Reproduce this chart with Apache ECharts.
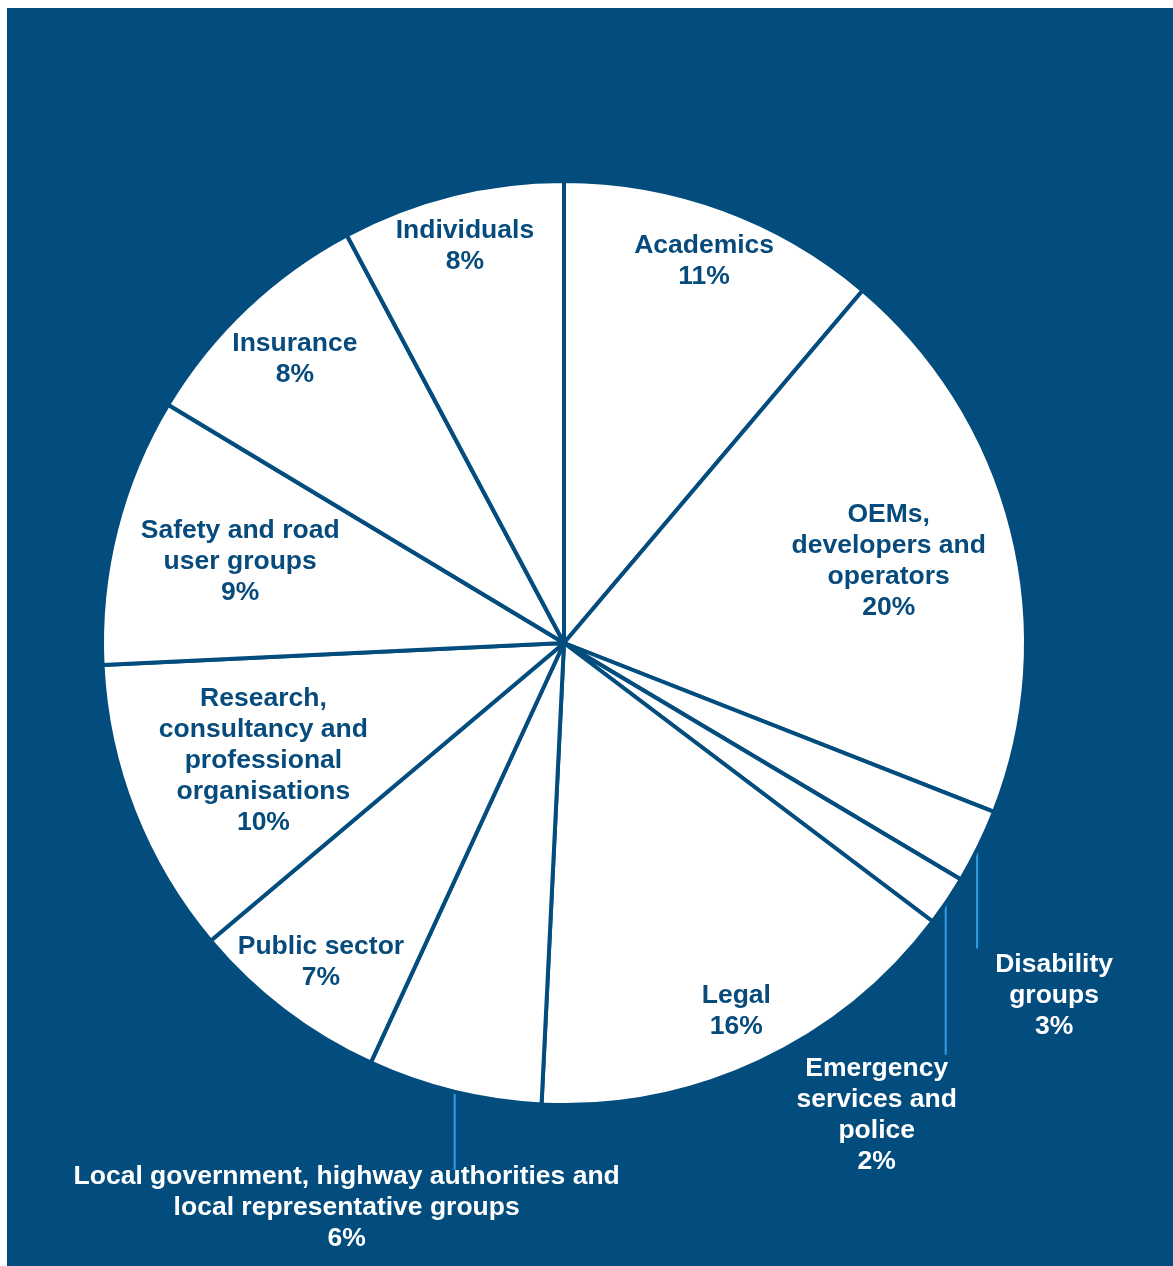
<!DOCTYPE html>
<html>
<head>
<meta charset="utf-8">
<script src="https://cdn.jsdelivr.net/npm/echarts@6/dist/echarts.min.js"></script>
<style>
html, body { margin: 0; padding: 0; background: #ffffff; }
#chart { position: absolute; left: 7px; top: 8px; width: 1166px; height: 1258px; }
</style>
</head>
<body>
<div id="chart"></div>
<script>
// ---- data (clockwise from 12 o'clock) ----
const categories = [
  'Academics',
  'OEMs, developers and operators',
  'Disability groups',
  'Emergency services and police',
  'Legal',
  'Local government, highway authorities and local representative groups',
  'Public sector',
  'Research, consultancy and professional organisations',
  'Safety and road user groups',
  'Insurance',
  'Individuals'
];
const labelText = [
  'Academics',
  'OEMs,\ndevelopers and\noperators',
  'Disability\ngroups',
  'Emergency\nservices and\npolice',
  'Legal',
  'Local government, highway authorities and\nlocal representative groups',
  'Public sector',
  'Research,\nconsultancy and\nprofessional\norganisations',
  'Safety and road\nuser groups',
  'Insurance',
  'Individuals'
];
// slice sizes as drawn (share of responses, %)
const values = [11.2, 19.8, 2.6, 1.75, 15.5, 6.1, 7.0, 10.4, 9.4, 8.6, 7.8];
// percentages as printed on the chart
const printedPct = [11, 20, 3, 2, 16, 6, 7, 10, 9, 8, 8];

// ---- styling / layout ----
const BG = '#034d7e';
const TEXT_DARK = '#064b7c';
const LEADER = '#2f9de8';
const labelRadius = [0.885, 0.728, null, null, 0.884, null, 0.872, 0.702, 0.726, 0.85, 0.889];
const outerLabel = {
  2: { line: 103, dx: 77, dy: 150 },
  3: { line: 155, dx: -69, dy: 215 },
  5: { line: 80, dx: -108, dy: 118 }
};

const chart = echarts.init(document.getElementById('chart'), null, { renderer: 'canvas' });

const seriesData = categories.map(function (name, i) {
  const isOuter = outerLabel[i] != null;
  return {
    name: name,
    value: values[i],
    label: {
      position: isOuter ? 'outside' : 'inside',
      color: isOuter ? '#ffffff' : TEXT_DARK
    },
    labelLine: {
      show: isOuter,
      lineStyle: { color: LEADER, width: 2 }
    }
  };
});

const option = {
  backgroundColor: BG,
  animation: false,
  series: [{
    type: 'pie',
    center: [557, 635],
    radius: [0, 462],
    startAngle: 90,
    clockwise: true,
    avoidLabelOverlap: false,
    emphasis: { disabled: true },
    itemStyle: {
      color: '#ffffff',
      borderColor: BG,
      borderWidth: 4,
      borderJoin: 'round'
    },
    label: {
      show: true,
      fontFamily: "'Liberation Sans', Arial, sans-serif",
      fontWeight: 'bold',
      fontSize: 26.5,
      lineHeight: 31,
      align: 'center',
      formatter: function (p) {
        return labelText[p.dataIndex] + '\n' + printedPct[p.dataIndex] + '%';
      }
    },
    labelLayout: function (p) {
      const model = chart.getModel && chart.getModel();
      if (!model) return {};
      const s = model.getSeriesByIndex(0);
      if (!s) return {};
      const lay = s.getData().getItemLayout(p.dataIndex);
      if (!lay) return {};
      const mid = (lay.startAngle + lay.endAngle) / 2;
      const R = lay.r - 2;
      const i = p.dataIndex;
      if (outerLabel[i]) {
        const o = outerLabel[i];
        const ex = lay.cx + R * Math.cos(mid);
        const ey = lay.cy + R * Math.sin(mid);
        return {
          x: ex + o.dx,
          y: ey + o.dy,
          align: 'center',
          verticalAlign: 'middle',
          labelLinePoints: [[ex, ey], [ex, ey + o.line]]
        };
      }
      const rr = R * labelRadius[i];
      return {
        x: lay.cx + rr * Math.cos(mid),
        y: lay.cy + rr * Math.sin(mid),
        align: 'center',
        verticalAlign: 'middle'
      };
    },
    data: seriesData
  }]
};

chart.setOption(option);
</script>
</body>
</html>
